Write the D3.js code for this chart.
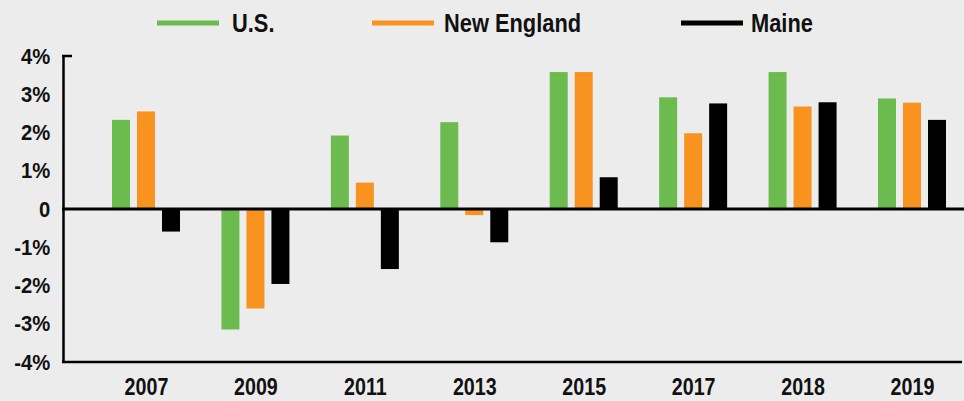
<!DOCTYPE html>
<html><head><meta charset="utf-8">
<script src="https://cdn.jsdelivr.net/npm/d3@7/dist/d3.min.js"></script>
<style>
html,body{margin:0;padding:0;background:#ececec;}
svg{display:block;}
text{font-family:"Liberation Sans","Arial",sans-serif;font-weight:bold;fill:#111;}
</style></head>
<body><svg id="c" width="964" height="401"></svg>
<script>
const years = ["2007","2009","2011","2013","2015","2017","2018","2019"];
const seriesNames = ["U.S.","New England","Maine"];
const usValues = [2.33, -3.15, 1.92, 2.27, 3.58, 2.92, 3.58, 2.89];
const newEnglandValues = [2.55, -2.6, 0.69, -0.16, 3.58, 1.98, 2.68, 2.78];
const maineValues = [-0.59, -1.96, -1.57, -0.87, 0.83, 2.76, 2.79, 2.33];
const yTicks = [4, 3, 2, 1, 0, -1, -2, -3, -4];
const colors = ["#6cbb4e", "#f7931e", "#000000"];

const allValues = [usValues, newEnglandValues, maineValues];
const svg = d3.select("#c");

const y = d3.scaleLinear().domain([-4, 4]).range([362, 56]);
const x = d3.scalePoint().domain(years).range([146, 912]);
const xs = d3.scaleBand().domain(seriesNames).range([-34, 34]).paddingInner(0.28).paddingOuter(0);

// bars
seriesNames.forEach((s, si) => {
  svg.append("g").selectAll("rect").data(years).join("rect")
    .attr("x", (d) => x(d) + xs(s))
    .attr("width", xs.bandwidth())
    .attr("y", (d, i) => y(Math.max(0, allValues[si][i])))
    .attr("height", (d, i) => Math.abs(y(allValues[si][i]) - y(0)))
    .attr("fill", colors[si]);
});

// zero line
svg.append("line").attr("x1", 62).attr("x2", 964).attr("y1", y(0)).attr("y2", y(0))
  .attr("stroke", "#000").attr("stroke-width", 3);

// bottom axis line
svg.append("line").attr("x1", 62).attr("x2", 962).attr("y1", y(-4)).attr("y2", y(-4))
  .attr("stroke", "#000").attr("stroke-width", 2.5);

// left axis
const yAxis = d3.axisLeft(y).tickValues(yTicks).tickSize(0).tickPadding(12)
  .tickFormat(d => d === 0 ? "0" : d + "%");
const ya = svg.append("g").attr("transform", "translate(63,0)").call(yAxis);
ya.select(".domain").attr("stroke", "#000").attr("stroke-width", 2.5);
ya.selectAll("text").style("font-size", "22px").attr("fill", "#111")
  .style("font-family", '"Liberation Sans",Arial,sans-serif').style("font-weight", "bold")
  .attr("x", -14).attr("transform", "scale(0.92,1)");
svg.append("line").attr("x1", 62).attr("x2", 72).attr("y1", y(4)).attr("y2", y(4))
  .attr("stroke", "#000").attr("stroke-width", 2.5);

// x labels
const xAxis = d3.axisBottom(x).tickSize(0).tickPadding(0);
const xa = svg.append("g").attr("transform", "translate(0,378)").call(xAxis);
xa.select(".domain").remove();
xa.selectAll("text").style("font-size", "24px").attr("fill", "#111").attr("dy", "0.72em")
  .style("font-family", '"Liberation Sans",Arial,sans-serif').style("font-weight", "bold")
  .attr("transform", "scale(0.82,1)");

// legend
const legendX = [157, 372, 681];
const legendTextX = [232, 444, 751];
const lg = svg.append("g");
seriesNames.forEach((s, i) => {
  lg.append("line").attr("x1", legendX[i]).attr("x2", legendX[i] + 62)
    .attr("y1", 23).attr("y2", 23).attr("stroke", colors[i]).attr("stroke-width", 5);
  lg.append("text").attr("transform", `translate(${legendTextX[i]},23) scale(0.84,1)`)
    .attr("dy", "0.36em").style("font-size", "26px").text(s);
});
</script></body></html>
